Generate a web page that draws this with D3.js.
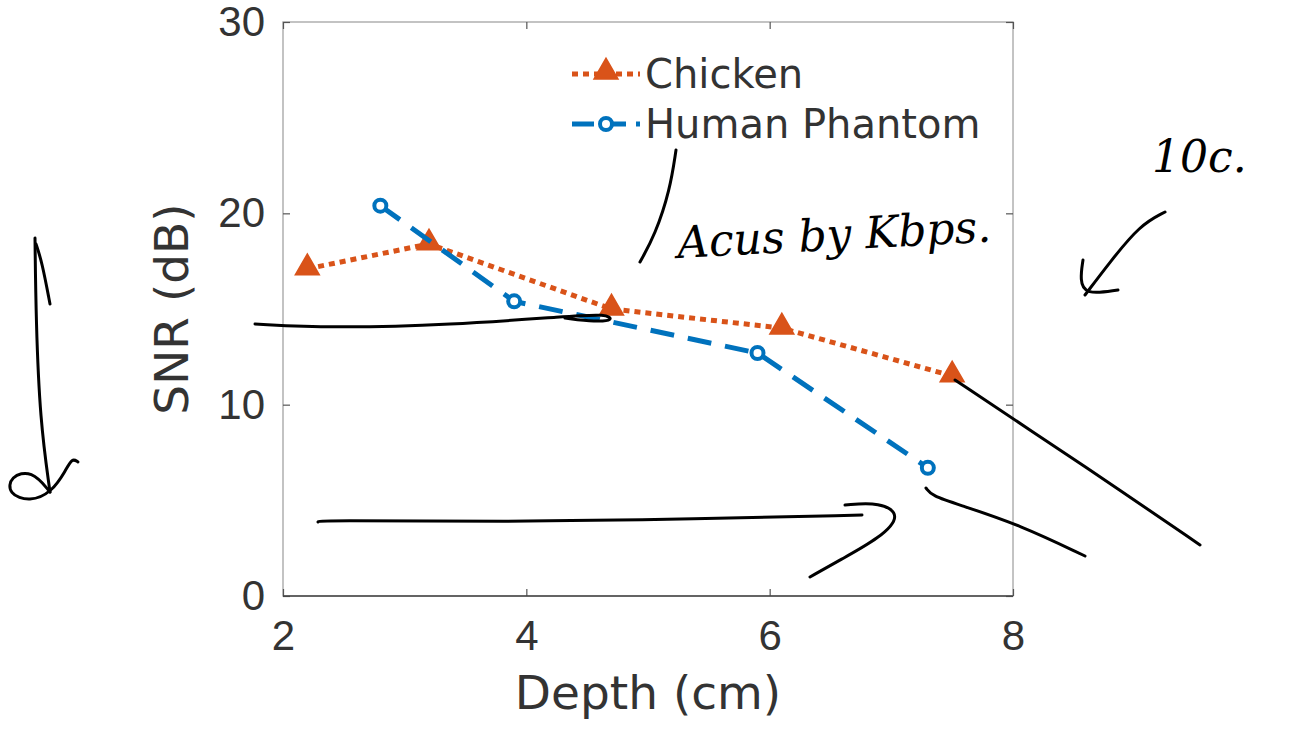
<!DOCTYPE html>
<html>
<head>
<meta charset="utf-8">
<script src="https://cdn.jsdelivr.net/npm/d3@7"></script>
<style>
  body { margin: 0; background: #fff; }
  svg { display: block; font-family: "DejaVu Sans", sans-serif; }
</style>
</head>
<body>
<svg width="1291" height="729"></svg>
<script>
const width = 1291;
const height = 729;

// data
const chickenDepth = [2.2, 3.2, 4.7, 6.1, 7.5];
const chickenSnr = [17.1, 18.4, 15.0, 14.0, 11.5];
const phantomDepth = [2.8, 3.9, 5.9, 7.3];
const phantomSnr = [20.4, 15.4, 12.7, 6.7];
const xTicks = [2, 4, 6, 8];
const yTicks = [0, 10, 20, 30];
const seriesNames = ["Chicken", "Human Phantom"];

const orange = "#D95319";
const blue = "#0072BD";
const ink = "#333";

const svg = d3.select("svg").attr("viewBox", `0 0 ${width} ${height}`);

const x = d3.scaleLinear().domain([2, 8]).range([283, 1013]);
const y = d3.scaleLinear().domain([0, 30]).range([596, 22]);

// box
svg.append("rect")
    .attr("x", x(2)).attr("y", y(30))
    .attr("width", x(8) - x(2)).attr("height", y(0) - y(30))
    .attr("fill", "none").attr("stroke", "#b0b0b0").attr("stroke-width", 1.5);

const styleAxis = g => {
    g.select(".domain").remove();
    g.selectAll(".tick line").attr("stroke", "#555").attr("stroke-width", 1.2);
    g.selectAll(".tick text").attr("fill", ink).attr("font-size", 42);
};

svg.append("g")
    .attr("transform", `translate(0,${y(0)})`)
    .call(d3.axisBottom(x).tickValues(xTicks).tickFormat(d3.format("d"))
        .tickSizeInner(-7).tickSizeOuter(0).tickPadding(24))
    .call(styleAxis);

svg.append("g")
    .attr("transform", `translate(${x(2)},0)`)
    .call(d3.axisLeft(y).tickValues(yTicks).tickFormat(d3.format("d"))
        .tickSizeInner(-7).tickSizeOuter(0).tickPadding(18))
    .call(styleAxis);

// right and top inward ticks
svg.append("g")
    .attr("transform", `translate(${x(8)},0)`)
    .call(d3.axisRight(y).tickValues(yTicks).tickSizeInner(-7).tickSizeOuter(0).tickFormat(""))
    .call(styleAxis);
svg.append("g")
    .attr("transform", `translate(0,${y(30)})`)
    .call(d3.axisTop(x).tickValues(xTicks).tickSizeInner(-7).tickSizeOuter(0).tickFormat(""))
    .call(styleAxis);

// bottom axis line darker
svg.append("line")
    .attr("x1", x(2)).attr("x2", x(8)).attr("y1", y(0)).attr("y2", y(0))
    .attr("stroke", "#444").attr("stroke-width", 1.5);

// axis titles
svg.append("text")
    .attr("x", (x(2) + x(8)) / 2). attr("y", 709)
    .attr("text-anchor", "middle").attr("font-size", 47).attr("fill", ink)
    .text("Depth (cm)");

svg.append("text")
    .attr("transform", `translate(188,${(y(0) + y(30)) / 2}) rotate(-90)`)
    .attr("text-anchor", "middle").attr("font-size", 47).attr("fill", ink)
    .text("SNR (dB)");

const line = d3.line().x(d => x(d[0])).y(d => y(d[1]));
const chicken = d3.zip(chickenDepth, chickenSnr);
const phantom = d3.zip(phantomDepth, phantomSnr);

const tri = d3.symbol().type(d3.symbolTriangle).size(230);

// chicken
svg.append("path").datum(chicken)
    .attr("d", line).attr("fill", "none")
    .attr("stroke", orange).attr("stroke-width", 5)
    .attr("stroke-dasharray", "6 5");
svg.selectAll(".tri").data(chicken).join("path")
    .attr("d", tri)
    .attr("transform", d => `translate(${x(d[0])},${y(d[1]) - 1})`)
    .attr("fill", orange).attr("stroke", orange).attr("stroke-width", 2);

// phantom
svg.append("path").datum(phantom)
    .attr("d", line).attr("fill", "none")
    .attr("stroke", blue).attr("stroke-width", 5)
    .attr("stroke-dasharray", "24 14");
svg.selectAll(".dot").data(phantom).join("circle")
    .attr("cx", d => x(d[0])).attr("cy", d => y(d[1]))
    .attr("r", 6).attr("fill", "#fff")
    .attr("stroke", blue).attr("stroke-width", 4);

// legend
const legend = svg.append("g");
const legendRows = [
    { name: seriesNames[0], color: orange, dash: "6 5", marker: "tri", yy: 74 },
    { name: seriesNames[1], color: blue, dash: "22 10", marker: "circle", yy: 124 }
];
legendRows.forEach(r => {
    legend.append("line")
        .attr("x1", 572).attr("x2", 640).attr("y1", r.yy).attr("y2", r.yy)
        .attr("stroke", r.color).attr("stroke-width", 5).attr("stroke-dasharray", r.dash);
    if (r.marker === "tri") {
        legend.append("path").attr("d", tri)
            .attr("transform", `translate(606,${r.yy - 2})`)
            .attr("fill", r.color).attr("stroke", r.color).attr("stroke-width", 2);
    } else {
        legend.append("circle").attr("cx", 606).attr("cy", r.yy).attr("r", 6)
            .attr("fill", "#fff").attr("stroke", r.color).attr("stroke-width", 4);
    }
    legend.append("text")
        .attr("x", 645).attr("y", r.yy + 14)
        .attr("font-size", 40).attr("fill", ink)
        .text(r.name);
});

// handwritten ink overlay
const pen = d3.line().curve(d3.curveBasis);
const strokes = [
    [[35, 238], [36, 320], [40, 420], [50, 492]],
    [[36, 244], [42, 262], [50, 304]],
    [[50, 492], [32, 470], [10, 476], [8, 494], [30, 502], [52, 492], [66, 470], [72, 458], [78, 462]],
    [[255, 324], [330, 328], [450, 325], [570, 316], [606, 314], [614, 320], [596, 322], [565, 318]],
    [[318, 522], [320, 520], [500, 522], [700, 519], [862, 515]],
    [[845, 505], [880, 502], [902, 515], [880, 538], [840, 560], [810, 577]],
    [[926, 488], [932, 496], [960, 505], [1020, 525], [1085, 556]],
    [[955, 380], [1030, 430], [1120, 490], [1200, 545]],
    [[1165, 212], [1140, 225], [1110, 262], [1085, 295]],
    [[1083, 260], [1080, 280], [1085, 295], [1118, 290]],
    [[676, 150], [670, 190], [655, 235], [640, 262]]
];
const inkLayer = svg.append("g")
    .attr("fill", "none").attr("stroke", "#000")
    .attr("stroke-width", 3).attr("stroke-linecap", "round");
strokes.forEach(s => inkLayer.append("path").attr("d", pen(s)));

inkLayer.append("text")
    .attr("x", 678).attr("y", 258)
    .attr("font-family", "DejaVu Serif").attr("font-style", "italic")
    .attr("font-size", 44).attr("fill", "#000").attr("stroke", "none")
    .attr("transform", "rotate(-3 678 258)")
    .text("Acus by Kbps.");
inkLayer.append("text")
    .attr("x", 1152).attr("y", 172)
    .attr("font-family", "DejaVu Serif").attr("font-style", "italic")
    .attr("font-size", 44).attr("fill", "#000").attr("stroke", "none")
    .text("10c.");
</script>
</body>
</html>
